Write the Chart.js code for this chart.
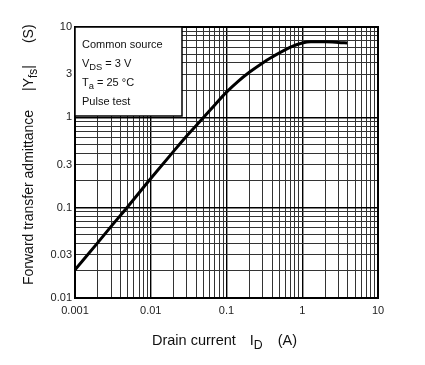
<!DOCTYPE html>
<html>
<head>
<meta charset="utf-8">
<script src="https://cdn.jsdelivr.net/npm/chart.js@4/dist/chart.umd.min.js"></script>
<style>
    html, body { margin: 0; padding: 0; background: #fff; }
    #wrap { width: 425px; height: 365px; }
</style>
</head>
<body>
<div id="wrap"><canvas id="yfsChart"></canvas></div>
<script>
// Drain current ID (A) vs forward transfer admittance |Yfs| (S)
var drainCurrent = [0.001, 0.002, 0.003, 0.005, 0.01, 0.02, 0.03, 0.05, 0.07, 0.1, 0.14, 0.2, 0.3, 0.4, 0.7, 1.0, 1.3, 2.0, 3.0, 3.9];
var admittance   = [0.0205, 0.041, 0.062, 0.103, 0.21, 0.42, 0.625, 1.0, 1.37, 1.9, 2.47, 3.15, 4.0, 4.65, 6.0, 6.65, 6.85, 6.85, 6.75, 6.65];

var xTickLabels = ['0.001', '0.01', '0.1', '1', '10'];
var yTickLabels = ['0.01', '0.03', '0.1', '0.3', '1', '3', '10'];

var noteLines = [
    [{ t: 'Common source' }],
    [{ t: 'V' }, { t: 'DS', sub: true }, { t: ' = 3 V' }],
    [{ t: 'T' }, { t: 'a', sub: true }, { t: ' = 25 °C' }],
    [{ t: 'Pulse test' }]
];

var FONT = "'Liberation Sans', Arial, Helvetica, sans-serif";

// grid at 1..9 x each decade
function gridValues(lo, hi) {
    var out = [];
    for (var e = lo; e < hi; e++) {
        for (var d = 1; d < 10; d++) out.push(+(d * Math.pow(10, e)).toPrecision(3));
    }
    out.push(Math.pow(10, hi));
    return out;
}
function isDecade(v) {
    var l = Math.log10(v);
    return Math.abs(l - Math.round(l)) < 1e-6;
}
function labelFor(list) {
    return function (value) {
        for (var i = 0; i < list.length; i++) {
            if (Math.abs(parseFloat(list[i]) - value) < value * 1e-6) return list[i];
        }
        return '';
    };
}

function drawRich(ctx, parts, x, y, size) {
    parts.forEach(function (p) {
        if (p.gap) { x += p.gap; return; }
        var s = p.sub ? size * 0.85 : size;
        ctx.font = s + 'px ' + FONT;
        ctx.fillText(p.t, x, y + (p.sub ? size * 0.28 : 0));
        x += ctx.measureText(p.t).width;
    });
}

var extrasPlugin = {
    id: 'extras',
    afterDraw: function (chart) {
        var ctx = chart.ctx, a = chart.chartArea;
        ctx.save();
        // frame
        ctx.strokeStyle = '#000';
        ctx.lineWidth = 2;
        ctx.strokeRect(a.left, a.top, a.right - a.left, a.bottom - a.top);

        // note box
        ctx.fillStyle = '#fff';
        ctx.fillRect(a.left, a.top, 107, 89);
        ctx.lineWidth = 1.5;
        ctx.strokeRect(a.left, a.top, 107, 89);
        ctx.fillStyle = '#111';
        ctx.textBaseline = 'alphabetic';
        ctx.textAlign = 'left';
        var base = [48, 67, 86, 105];
        noteLines.forEach(function (line, i) {
            drawRich(ctx, line, a.left + 7, base[i], 11);
        });

        // x title
        drawRich(ctx, [{ t: 'Drain current' }, { gap: 14 }, { t: 'I' }, { t: 'D', sub: true }, { gap: 15 }, { t: '(A)' }], 152, 345, 14.5);

        // y title
        ctx.translate(33, 285);
        ctx.rotate(-Math.PI / 2);
        drawRich(ctx, [{ t: 'Forward transfer admittance' }, { gap: 19 }, { t: '|Y' }, { t: 'fs', sub: true }, { t: '|' }, { gap: 22 }, { t: '(S)' }], 0, 0, 14);
        ctx.restore();
    }
};

var gridColor = function (c) { return c.tick && isDecade(c.tick.value) ? '#000' : '#333'; };
var gridWidth = function (c) { return c.tick && isDecade(c.tick.value) ? 1.4 : 1; };

var ctx = document.getElementById('yfsChart').getContext('2d');
new Chart(ctx, {
    type: 'line',
    data: {
        datasets: [{
            data: drainCurrent.map(function (x, i) { return { x: x, y: admittance[i] }; }),
            borderColor: '#000',
            borderWidth: 3,
            pointRadius: 0,
            cubicInterpolationMode: 'monotone',
            fill: false
        }]
    },
    plugins: [extrasPlugin],
    options: {
        responsive: true,
        maintainAspectRatio: false,
        animation: false,
        layout: { padding: { left: 0, top: 27, right: 47, bottom: 0 } },
        plugins: { legend: { display: false }, tooltip: { enabled: false } },
        scales: {
            x: {
                type: 'logarithmic',
                min: 0.001,
                max: 10,
                afterBuildTicks: function (scale) {
                    scale.ticks = gridValues(-3, 1).map(function (v) { return { value: v }; });
                },
                afterFit: function (scale) { scale.height = 67; },
                ticks: {
                    autoSkip: false,
                    maxRotation: 0,
                    padding: 6,
                    color: '#222',
                    font: { family: FONT, size: 11 },
                    callback: labelFor(xTickLabels)
                },
                grid: { drawTicks: false, color: gridColor, lineWidth: gridWidth },
                border: { display: false }
            },
            y: {
                type: 'logarithmic',
                min: 0.01,
                max: 10,
                afterBuildTicks: function (scale) {
                    scale.ticks = gridValues(-2, 1).map(function (v) { return { value: v }; });
                },
                afterFit: function (scale) { scale.width = 75; },
                ticks: {
                    autoSkip: false,
                    padding: 3,
                    color: '#222',
                    font: { family: FONT, size: 11 },
                    callback: labelFor(yTickLabels)
                },
                grid: { drawTicks: false, color: gridColor, lineWidth: gridWidth },
                border: { display: false }
            }
        }
    }
});
</script>
</body>
</html>
